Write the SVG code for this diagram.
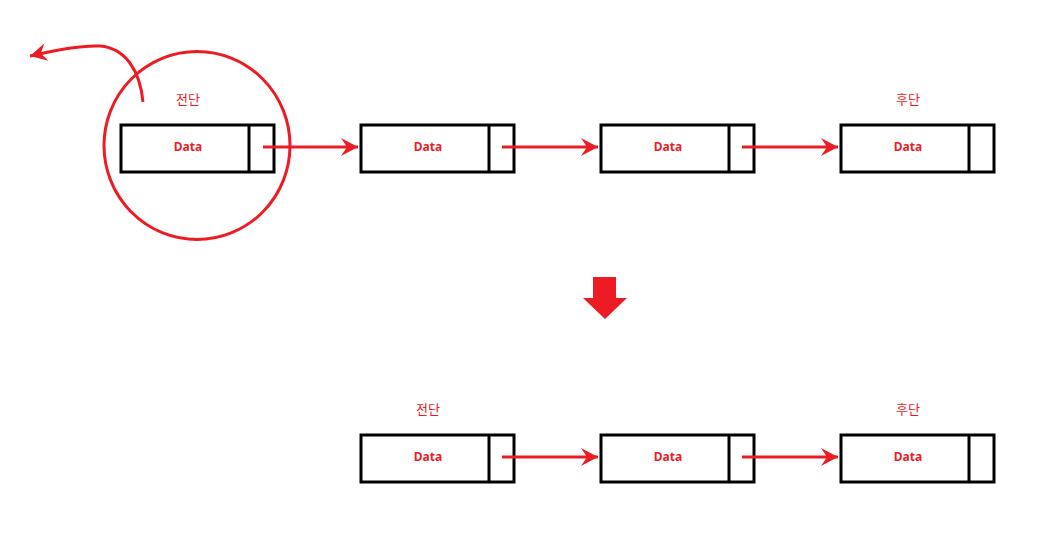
<svg xmlns="http://www.w3.org/2000/svg" width="1058" height="546" viewBox="0 0 1058 546">
<style>
.box{fill:#fff;stroke:#000;stroke-width:3}
.div{stroke:#000;stroke-width:3}
.data{font-family:"Noto Sans","Liberation Sans",sans-serif;font-weight:bold;font-size:12px;fill:#ed1c24;text-anchor:middle}
.lbl{font-family:"Noto Sans CJK KR","Noto Sans",sans-serif;font-size:13px;fill:#ed1c24;text-anchor:middle}
.con{fill:none;stroke:#ed1c24;stroke-width:3}
</style>
<defs>
<marker id="ah" markerUnits="userSpaceOnUse" markerWidth="20" markerHeight="20" viewBox="-18 -10 20 20" refX="0" refY="0" orient="auto">
<path d="M0,0 L-17,-9 L-11,0 L-17,9 Z" fill="#ed1c24"/>
</marker>
</defs>
<rect width="1058" height="546" fill="#fff"/>
<g id="top-node1">
<rect class="box" x="121" y="125" width="153" height="47"/>
<line class="div" x1="249" y1="125" x2="249" y2="172"/>
<text class="data" x="188" y="151">Data</text>
<text class="lbl" x="188" y="104">전단</text>
</g>
<g id="top-node2">
<rect class="box" x="361" y="125" width="153" height="47"/>
<line class="div" x1="489" y1="125" x2="489" y2="172"/>
<text class="data" x="428" y="151">Data</text>
</g>
<g id="top-node3">
<rect class="box" x="601" y="125" width="153" height="47"/>
<line class="div" x1="729" y1="125" x2="729" y2="172"/>
<text class="data" x="668" y="151">Data</text>
</g>
<g id="top-node4">
<rect class="box" x="841" y="125" width="153" height="47"/>
<line class="div" x1="969" y1="125" x2="969" y2="172"/>
<text class="data" x="908" y="151">Data</text>
<text class="lbl" x="908" y="104">후단</text>
</g>
<g id="bot-node1">
<rect class="box" x="361" y="435" width="153" height="47"/>
<line class="div" x1="489" y1="435" x2="489" y2="482"/>
<text class="data" x="428" y="461">Data</text>
<text class="lbl" x="428" y="414">전단</text>
</g>
<g id="bot-node2">
<rect class="box" x="601" y="435" width="153" height="47"/>
<line class="div" x1="729" y1="435" x2="729" y2="482"/>
<text class="data" x="668" y="461">Data</text>
</g>
<g id="bot-node3">
<rect class="box" x="841" y="435" width="153" height="47"/>
<line class="div" x1="969" y1="435" x2="969" y2="482"/>
<text class="data" x="908" y="461">Data</text>
<text class="lbl" x="908" y="414">후단</text>
</g>
<g id="highlight">
<ellipse cx="197" cy="145.5" rx="93" ry="94" fill="none" stroke="#ed1c24" stroke-width="3"/>
</g>
<g id="connectors">
<line class="con" x1="263" y1="147" x2="358" y2="147" marker-end="url(#ah)"/>
<line class="con" x1="502" y1="147" x2="598" y2="147" marker-end="url(#ah)"/>
<line class="con" x1="742" y1="147" x2="838" y2="147" marker-end="url(#ah)"/>
<line class="con" x1="502" y1="457" x2="598" y2="457" marker-end="url(#ah)"/>
<line class="con" x1="742" y1="457" x2="838" y2="457" marker-end="url(#ah)"/>
<path class="con" d="M143,102 C140,70 125,48 100,46 C80,45 55,50 30,56" marker-end="url(#ah)"/>
</g>
<g id="down-arrow">
<path d="M593,277 L616,277 L616,298 L627,298 L605,319 L583,298 L593,298 Z" fill="#ed1c24"/>
</g>
</svg>
